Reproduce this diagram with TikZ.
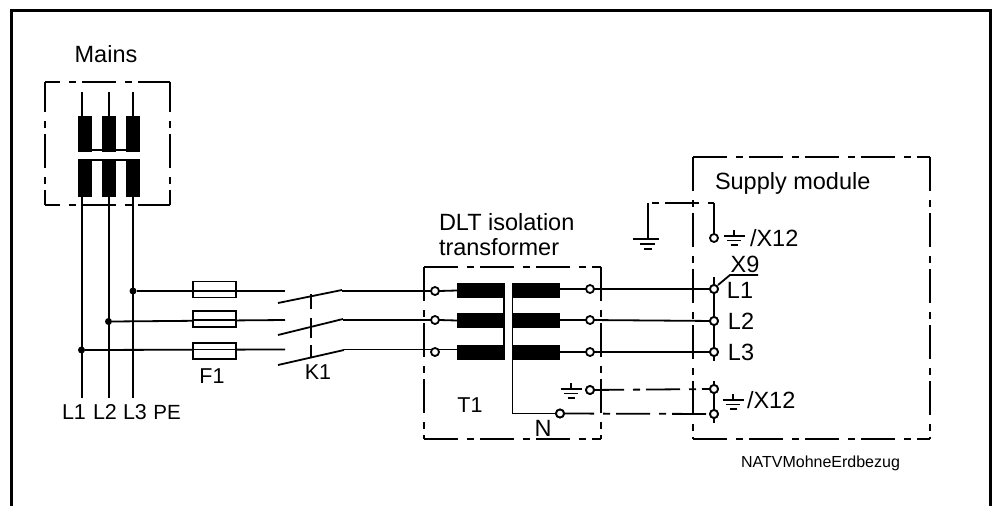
\documentclass[tikz,border=0pt]{standalone}
\usepackage{fontspec}
\setmainfont{Liberation Sans}
\newcommand{\fsz}[1]{\fontsize{#1}{#1}\selectfont}
\tikzset{
  wire/.style={line width=1.8pt,black},
  frame/.style={line width=3pt,black},
  bbox/.style={line width=1.8pt,black,dash pattern=on 34pt off 9pt on 7pt off 6pt},
  block/.style={fill=black,draw=none,inner sep=0pt,outer sep=0pt,minimum width=#1},
  block/.default=47pt,
  fuse/.style={draw=black,line width=1.8pt,fill=white,inner sep=0pt,outer sep=0pt,minimum width=43pt,minimum height=16pt},
  term/.style={circle,draw=black,line width=1.8pt,fill=white,inner sep=0pt,outer sep=0pt,minimum size=8pt},
  jdot/.style={circle,fill=black,inner sep=0pt,outer sep=0pt,minimum size=7pt},
  lab/.style={inner sep=0pt,outer sep=0pt,font=\fsz{23.5}},
  lab2/.style={inner sep=0pt,outer sep=0pt,font=\fsz{21.5}},
  gnd/.pic={\draw[wire] (0,-6)--(0,0) (-10.5,0)--(10.5,0) (-7,4.5)--(7,4.5) (-3.5,9)--(3.5,9);},
}
\begin{document}
\begin{tikzpicture}[x=1pt,y=-1pt]
\useasboundingbox (0,0) rectangle (997,506);
% outer frame
\coordinate (fa) at (11,506); \coordinate (fb) at (11,10); \coordinate (fc) at (990,10); \coordinate (fd) at (990,506);
\draw[frame,line join=miter] (fa)--(fb)--(fc)--(fd);
% Mains
\node[lab] (mains) at (106,54) {Mains};
\coordinate (m1) at (45,82); \coordinate (m2) at (170,82); \coordinate (m3) at (45,205); \coordinate (m4) at (170,205);
\draw[bbox,dash phase=19pt] (m1)--(m2);
\draw[bbox,dash phase=19pt] (m3)--(m4);
\draw[bbox,dash phase=4pt] (m1)--(m3);
\draw[bbox,dash phase=4pt] (m2)--(m4);
\foreach \n/\x/\w in {a/85/82,b/109/108.7,c/133/132.7}{
  \node[block=14.5pt,minimum height=36pt] (up\n) at (\x,133.5) {};
  \node[block=14.5pt,minimum height=37pt] (lo\n) at (\x,178.5) {};
  \coordinate (top\n) at (\w,92);
  \draw[wire] (top\n)--(top\n|-upa.north);
}
\draw[wire] (upa.center|-0,150)--(upc.center|-0,150);
\draw[wire] (loa.north west)--(loc.north east);
\coordinate (ea) at (82,398); \coordinate (eb) at (109,398); \coordinate (ec) at (133,398);
\draw[wire] (ea|-loa.south)--(ea);
\draw[wire] (eb|-lob.south)--(eb);
\draw[wire] (ec|-loc.south)--(ec);
\node[jdot] (d3) at (133,291) {};
\node[jdot] (d2) at (108.5,321.5) {};
\node[jdot] (d1) at (81.5,350) {};
\node[lab2] at (74,412) {L1};
\node[lab2] at (105,412) {L2};
\node[lab2] at (135,412) {L3};
\node[lab2,font=\fsz{20.5}] at (167,412) {PE};
% feeder wires and fuses
\coordinate (s3a) at (285,291); \coordinate (s2a) at (285,320); \coordinate (s1a) at (285,349.5);
\draw[wire] (d3)--(s3a);
\draw[wire] (d2.east)--(s2a);
\draw[wire] (d1)--(s1a);
\node[fuse] (f3) at (214.5,289.5) {};
\node[fuse] (f2) at (214.5,319) {};
\node[fuse] (f1) at (214.5,351) {};
\draw[wire] (f3.west|-s3a)--(f3.east|-s3a);
\draw[wire] (f2.west|-s2a)--(f2.east|-s2a);
\draw[wire] (f1.west|-s1a)--(f1.east|-s1a);
\node[lab2] at (212,376) {F1};
% contactor K1
\coordinate (k3a) at (278,303); \coordinate (k3b) at (342,290);
\coordinate (k2a) at (278,335); \coordinate (k2b) at (343,319);
\coordinate (k1a) at (278,365); \coordinate (k1b) at (344,350);
\draw[wire] (k3a)--(k3b);
\draw[wire] (k2a)--(k2b);
\draw[wire] (k1a)--(k1b);
\coordinate (l1) at (311,294); \coordinate (l2) at (311,309); \coordinate (l3) at (311,318); \coordinate (l4) at (311,338); \coordinate (l5) at (311,345); \coordinate (l6) at (311,358);
\draw[wire] (l1)--(l2) (l3)--(l4) (l5)--(l6);
\node[lab2] at (318,372) {K1};
% transformer
\node[lab,anchor=west] at (439,222) {DLT isolation};
\node[lab,anchor=west] at (439,247) {transformer};
\coordinate (t1) at (424,267); \coordinate (t2) at (601,267); \coordinate (t3) at (424,439); \coordinate (t4) at (601,439);
\draw[bbox] (t1)--(t2);
\draw[bbox] (t3)--(t4);
\draw[bbox] (t1)--(t3);
\draw[bbox] (t2)--(t4);
\node[term] (pa) at (435,291) {};
\node[term] (pb) at (435,320) {};
\node[term] (pc) at (435,352) {};
\node[block,minimum height=15pt] (ba) at (480.5,290.5) {};
\node[block,minimum height=15pt] (bb) at (480.5,320.5) {};
\node[block,minimum height=15pt] (bc) at (480.5,352) {};
\node[block,minimum height=15pt] (ca) at (536,290.5) {};
\node[block,minimum height=15pt] (cb) at (536,320.5) {};
\node[block,minimum height=15pt] (cc) at (536,352) {};
\draw[wire] (s3a-|k3b)--(s3a-|pa.west);
\draw[wire] (s2a-|k2b)--(s2a-|pb.west);
\draw[wire] (s1a-|k1b)--(s1a-|pc.west);
\draw[wire] (pa.east)--(ba.west);
\draw[wire] (pb.east)--(bb.west);
\draw[wire] (pc.north east|-s1a)--(bc.west|-s1a);
\draw[wire] (ba.north east)--(bc.south east);
\node[term] (oa) at (590,289) {};
\node[term] (ob) at (590,320) {};
\node[term] (oc) at (590,352) {};
\node[term] (og) at (590,390) {};
\node[term] (nn) at (560,413.5) {};
\draw[wire] (ca.east|-oa)--(oa);
\draw[wire] (cb.east|-ob)--(ob);
\draw[wire] (cc.east|-oc)--(oc);
\draw[wire] (ca.north west)--(ca.north west|-nn)--(nn);
\pic at (571,389) {gnd};
\node[lab2] at (470,405) {T1};
\node[lab] at (543,428) {N};
% supply module
\coordinate (u1) at (693,157); \coordinate (u2) at (930,157); \coordinate (u3) at (693,439); \coordinate (u4) at (930,439);
\draw[bbox] (u1)--(u2);
\draw[bbox] (u3)--(u4);
\draw[bbox] (u1)--(u3);
\draw[bbox] (u2)--(u4);
\node[lab,anchor=west] at (715,183) {Supply module};
\node[term] (xa) at (714,289) {};
\node[term] (xb) at (714,321) {};
\node[term] (xc) at (714,352) {};
\node[term] (xd) at (714,389) {};
\node[term] (xe) at (714,414) {};
\node[term] (xf) at (714,238) {};
\coordinate (xt) at (714,277); \coordinate (xm) at (714,361);
\coordinate (xn) at (714,381); \coordinate (xo) at (714,423);
\draw[wire] (xt)--(xa) (xa)--(xb) (xb)--(xc) (xc)--(xm);
\draw[wire] (xn)--(xd) (xd)--(xe) (xe)--(xo);
\draw[wire] (oa)--(xa);
\draw[wire] (ob)--(xb);
\draw[wire] (oc)--(xc);
\draw[bbox,shorten >=4pt] (og.center)--(xd.center);
\draw[bbox,shorten >=4pt] (nn.center)--(xe.center);
\node[term] at (og) {};
\node[term] at (nn) {};
\node[term] at (xa) {};
\node[term] at (xb) {};
\node[term] at (xc) {};
\node[term] at (xd) {};
\node[term] at (xe) {};
% earth link
\coordinate (ga) at (648,203); \coordinate (gb) at (714,203); \coordinate (gc) at (648,239);
\draw[bbox,dash phase=39pt] (ga)--(gb);
\draw[wire] (ga)--(gc);
\draw[wire] (gb)--(xf.north);
\draw[wire] (633,239)--(659,239) (640,244)--(655,244) (644,249)--(652,249);
\pic at (734,236) {gnd};
\pic at (733,400) {gnd};
\node[lab,anchor=west] at (750,238) {/X12};
\node[lab,anchor=west] at (747,400) {/X12};
\coordinate (ya) at (758,275); \coordinate (yb) at (730,275); \coordinate (yc) at (718,285);
\draw[wire] (ya)--(yb)--(yc);
\node[lab] at (745,264) {X9};
\node[lab] at (740,290) {L1};
\node[lab] at (741,321) {L2};
\node[lab] at (741,352) {L3};
\node[lab,font=\fsz{16}] at (820.5,463) {NATVMohneErdbezug};
\end{tikzpicture}
\end{document}
